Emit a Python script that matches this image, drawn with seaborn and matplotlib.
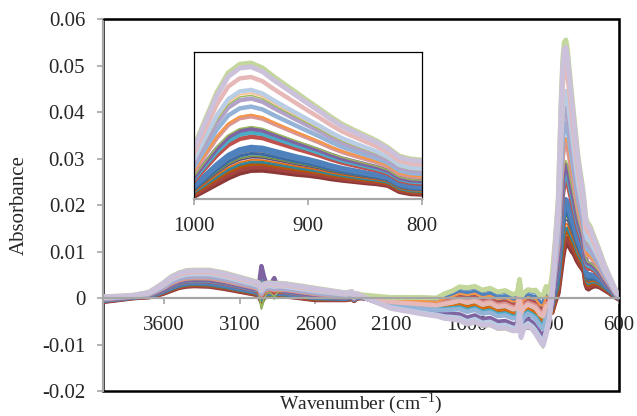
import numpy as np
import pandas as pd
import seaborn as sns
import matplotlib.pyplot as plt

# ---- data ----
wavenumber = [4000, 3900, 3800, 3700, 3650, 3600, 3550, 3500, 3450, 3400,
              3300, 3200, 3100, 3000, 2975, 2956, 2940, 2920, 2900, 2871,
              2850, 2800, 2600, 2400, 2360, 2345, 2330, 2300, 2100, 1900,
              1800, 1750, 1700, 1650, 1600, 1550, 1500, 1450, 1400, 1350,
              1300, 1270, 1255, 1245, 1230, 1200, 1170, 1150, 1120, 1100,
              1080, 1060, 1040, 1020, 1000, 990, 980, 970, 960, 950,
              940, 930, 920, 910, 900, 890, 880, 870, 860, 850,
              840, 830, 820, 810, 800, 790, 760, 730, 700, 665,
              640, 620, 600]

# lowest spectrum (dark red band)
lowest = [-0.0008, -0.0004, 0.0000, 0.0002, 0.0005, 0.0010, 0.0016, 0.0022, 0.0025, 0.0026,
          0.0025, 0.0020, 0.0014, 0.0008, 0.0005, -0.0008, 0.0000, 0.0004, 0.0005, 0.0003,
          0.0005, 0.0004, -0.0004, -0.0004, -0.0002, -0.0006, -0.0001, 0.0000, -0.0011, -0.0017,
          -0.0020, -0.0018, -0.0016, -0.0013, -0.0018, -0.0014, -0.0022, -0.0019, -0.0027, -0.0025,
          -0.0032, -0.0031, 0.0002, -0.0042, -0.0030, -0.0022, -0.0027, -0.0031, -0.0045, -0.0050,
          -0.0028, -0.0020, -0.0035, -0.0010, 0.0010, 0.0035, 0.0060, 0.0085, 0.0105, 0.0116,
          0.0117, 0.0112, 0.0106, 0.0100, 0.0096, 0.0090, 0.0082, 0.0076, 0.0071, 0.0066,
          0.0062, 0.0055, 0.0030, 0.0021, 0.0019, 0.0022, 0.0026, 0.0024, 0.0018, 0.0011,
          0.0005, 0.0001, -0.0003]

# highest spectrum (pale green line)
highest = [0.0003, 0.0004, 0.0006, 0.0012, 0.0022, 0.0033, 0.0046, 0.0054, 0.0059, 0.0060,
           0.0060, 0.0054, 0.0045, 0.0036, 0.0033, 0.0022, 0.0030, 0.0032, 0.0033, 0.0031,
           0.0032, 0.0031, 0.0021, 0.0011, 0.0014, 0.0004, 0.0010, 0.0006, -0.0011, -0.0017,
           -0.0020, -0.0018, -0.0016, -0.0013, -0.0018, -0.0014, -0.0022, -0.0019, -0.0027, -0.0025,
           -0.0032, -0.0031, 0.0002, -0.0042, -0.0030, -0.0022, -0.0027, -0.0031, -0.0045, -0.0050,
           -0.0028, -0.0020, 0.0035, 0.0120, 0.0213, 0.0325, 0.0435, 0.0515, 0.0550, 0.0555,
           0.0535, 0.0499, 0.0466, 0.0433, 0.0400, 0.0368, 0.0335, 0.0305, 0.0282, 0.0260,
           0.0238, 0.0210, 0.0175, 0.0163, 0.0159, 0.0154, 0.0128, 0.0103, 0.0075, 0.0048,
           0.0030, 0.0015, 0.0006]

# half-width of the band in the fingerprint region
fingerprint = [0, 0, 0, 0, 0, 0, 0, 0, 0, 0,
               0, 0, 0, 0, 0, 0, 0, 0, 0, 0,
               0, 0, 0, 0, 0, 0, 0, 0.0001, 0.0012, 0.0018,
               0.0020, 0.0027, 0.0031, 0.0037, 0.0040, 0.0039, 0.0039, 0.0040, 0.0040, 0.0041,
               0.0040, 0.0041, 0.0038, 0.0045, 0.0040, 0.0040, 0.0043, 0.0048, 0.0050, 0.0055,
               0.0053, 0.0030, 0.0015, 0.0005, 0, 0, 0, 0, 0, 0,
               0, 0, 0, 0, 0, 0, 0, 0, 0, 0,
               0, 0, 0, 0, 0, 0, 0, 0, 0, 0,
               0, 0, 0]

# C-H stretch doublet seen on a few samples
ch_band = [0, 0, 0, 0, 0, 0, 0, 0, 0, 0,
           0, 0, 0, 0, 0.0005, 0.0065, 0.0035, 0.0012, 0.0012, 0.0029,
           0.0008, 0, 0, 0, 0, 0, 0, 0, 0, 0,
           0, 0, 0, 0, 0, 0, 0, 0, 0, 0,
           0, 0, 0, 0, 0, 0, 0, 0, 0, 0,
           0, 0, 0, 0, 0, 0, 0, 0, 0, 0,
           0, 0, 0, 0, 0, 0, 0, 0, 0, 0,
           0, 0, 0, 0, 0, 0, 0, 0, 0, 0,
           0, 0, 0]

# per-sample position within the band (peak level, fingerprint, C-H)
peak_level = [0.00, 0.03, 0.06, 0.08, 0.10, 0.12, 0.135, 0.16, 0.18, 0.195, 0.22, 0.315, 0.355,
              0.39, 0.41, 0.505, 0.52, 0.595, 0.67, 0.70, 0.72, 0.75, 0.87, 1.00, 0.965]
fp_level = [0.30, 0.10, -0.10, 0.20, 0.00, -0.20, 0.40, 0.50, 0.20, 0.70, 0.95, 0.40, -0.20,
            -0.60, 0.10, 0.30, 0.60, -0.30, -0.90, -1.05, 0.20, -0.80, 0.20, 1.00, -0.95]
ch_level = [0, 0, 0, 0, 0, 0, -0.3, 0, 0, 0, 0, 0, 0.75,
            1.0, -0.4, 0, 0, 0, 0, 0, 0, 0, 0, 0, 0]

x_ticks = [3600, 3100, 2600, 2100, 1600, 1100, 600]
inset_ticks = [1000, 900, 800]
y_ticks = [-0.02, -0.01, 0, 0.01, 0.02, 0.03, 0.04, 0.05, 0.06]
y_labels = ['-0.02', '-0.01', '0', '0.01', '0.02', '0.03', '0.04', '0.05', '0.06']

# ---- styles ----
colors = ['#8C3836', '#A5443F', '#B65708', '#31859C', '#E46C0A', '#604A7B', '#77933C',
          '#3A6BA5', '#F79646', '#4F81BD', '#4F81BD', '#C0504D', '#4BACC6', '#8064A2',
          '#9BBB59', '#D99694', '#F79646', '#95B3D7', '#B3A2C7', '#9BBB59', '#FAC090',
          '#B9CDE5', '#E6B9B8', '#C4D79B', '#CCC1DA']
widths = [3.4, 3.2, 2.4, 2.0, 1.2, 1.2, 1.2, 2.6, 1.0, 3.2, 3.2, 3.2, 3.2, 3.2,
          1.0, 3.2, 1.5, 3.2, 3.2, 1.0, 1.2, 3.2, 3.2, 3.6, 3.6]

sns.set_style('white')
plt.rcParams['font.family'] = ['Liberation Serif', 'DejaVu Serif']
plt.rcParams['axes.unicode_minus'] = False
GRAY = '#A6A6A6'

wn = np.array(wavenumber)
lo = np.array(lowest)
hi = np.array(highest)
fp = np.array(fingerprint)
ch = np.array(ch_band)

frames = []
for i in range(len(peak_level)):
    spec = lo + peak_level[i] * (hi - lo) + fp_level[i] * fp + ch_level[i] * ch
    frames.append(pd.DataFrame({'wavenumber': wn, 'absorbance': spec, 'sample': i}))
df = pd.concat(frames, ignore_index=True)

fig = plt.figure(figsize=(6.37, 4.16), dpi=100)
ax = fig.add_axes([0.1617, 0.0601, 0.810, 0.894])
axin = fig.add_axes([0.3046, 0.5216, 0.358, 0.3534])

for i, (col, lw) in enumerate(zip(colors, widths)):
    d = df[df['sample'] == i]
    for a in (ax, axin):
        sns.lineplot(data=d, x='wavenumber', y='absorbance', ax=a, color=col, lw=lw,
                     estimator=None, sort=False, legend=False,
                     solid_joinstyle='round', solid_capstyle='round')

# main axes
ax.set_xlim(4000, 600)
ax.set_ylim(-0.02, 0.06)
ax.set_xticks(x_ticks)
ax.set_xticklabels([str(t) for t in x_ticks])
ax.set_yticks(y_ticks)
ax.set_yticklabels(y_labels)
ax.spines['bottom'].set_position(('data', 0))
for s in ('top', 'right'):
    ax.spines[s].set_color('black')
    ax.spines[s].set_linewidth(0.9)
for s in ('bottom', 'left'):
    ax.spines[s].set_color(GRAY)
    ax.spines[s].set_linewidth(1.6)
ax.patch.set_edgecolor('black')
ax.patch.set_linewidth(1.8)
ax.tick_params(axis='both', direction='out', length=4.3, width=1.2, color=GRAY,
               labelsize=15, pad=8.5)
ax.tick_params(axis='x', bottom=True)
ax.tick_params(axis='y', left=True)
ax.set_xlabel(r'Wavenumber (cm$^{\mathregular{-1}}$)', fontsize=14)
ax.set_ylabel('Absorbance', fontsize=15)
ax.xaxis.set_label_coords(0.5, 0.003)
ax.yaxis.set_label_coords(-0.143, 0.5)

# inset
axin.set_xlim(1000, 800)
axin.set_ylim(0, 0.06)
axin.set_xticks(inset_ticks)
axin.set_xticklabels([str(t) for t in inset_ticks])
axin.set_yticks([])
axin.set_xlabel('')
axin.set_ylabel('')
for s in ('top', 'right', 'left'):
    axin.spines[s].set_color('black')
    axin.spines[s].set_linewidth(0.9)
axin.spines['bottom'].set_color(GRAY)
axin.spines['bottom'].set_linewidth(1.6)
axin.tick_params(axis='x', bottom=True, direction='out', length=4.3, width=1.2, color=GRAY,
                 labelsize=15, pad=8.5)

fig.savefig('out.png', dpi=100)
